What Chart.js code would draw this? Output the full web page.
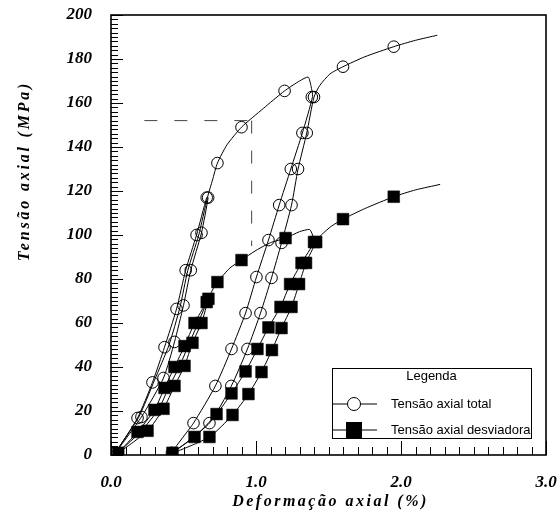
<!DOCTYPE html>
<html>
<head>
<meta charset="utf-8">
<script src="https://cdn.jsdelivr.net/npm/chart.js@4"></script>
<style>
html,body{margin:0;padding:0;background:#fff;}
#wrap{width:558px;height:515px;}
</style>
</head>
<body>
<div id="wrap"><canvas id="c" width="558" height="515"></canvas></div>
<script>
// ---- Data ----
const totalName = 'Tensão axial total';
const devName = 'Tensão axial desviadora';
const legendTitle = 'Legenda';
const xTitle = 'Deformação axial (%)';
const yTitle = 'Tensão axial (MPa)';

const xTickValues = [0, 1, 2, 3];
const yTickValues = [0, 20, 40, 60, 80, 100, 120, 140, 160, 180, 200];

// Total axial stress: full path of the curve (loading / unloading cycles)
const totalPathX = [0.03,0.183,0.286,0.369,0.452,0.515,0.59,0.66,
  0.67,0.624,0.55,0.50,0.438,0.362,0.21,0.03,
  0.19,0.30,0.40,0.475,0.53,0.605,0.665,0.70,0.734,0.80,0.90,1.05,1.197,1.30,1.36,1.38,1.39,
  1.32,1.24,1.16,1.086,1.003,0.928,0.831,0.72,0.569,0.42,
  0.679,0.83,0.941,1.031,1.107,1.176,1.245,1.29,1.35,1.40,
  1.44,1.51,1.60,1.75,1.95,2.10,2.25];
const totalPathY = [1,16.8,33,49,66.4,84,100,117,
  117,101,84,68,51.4,35,17.3,1,
  17,34,50,67,84,100,117,125,132.7,141,149,157.5,165.5,170,171.8,167.5,163,
  146.4,130,113.6,97.7,80.9,64.5,48.2,31.4,14.5,1,
  14.5,31.4,48.2,64.5,80.5,96.4,113.6,130,146.4,162.7,
  168,173.2,176.5,181,185.6,188.5,190.8];
// Total axial stress: measured points (circle markers)
const totalMarkX = [0.03,0.183,0.21,0.286,0.362,0.369,0.438,0.452,0.50,0.515,0.55,0.59,0.624,0.66,0.67,
  0.734,0.90,1.197,1.385,1.40,1.32,1.35,1.24,1.29,1.16,1.245,1.086,1.176,1.003,1.107,
  0.928,1.031,0.831,0.941,0.72,0.83,0.569,0.679,0.42,1.60,1.95];
const totalMarkY = [1,16.8,17.3,33,35,49,51.4,66.4,68,84,84,100,101,117,117,
  132.7,149,165.5,162.7,162.7,146.4,146.4,130,130,113.6,113.6,97.7,96.4,80.9,80.5,
  64.5,64.5,48.2,48.2,31.4,31.4,14.5,14.5,1,176.5,185.6];

// Deviatoric axial stress: full path
const devPathX = [0.05,0.183,0.30,0.369,0.438,0.507,0.576,0.66,
  0.672,0.624,0.562,0.507,0.438,0.362,0.252,0.05,
  0.21,0.33,0.40,0.47,0.535,0.60,0.665,0.70,0.734,0.82,0.90,1.00,1.10,1.204,1.30,1.37,1.39,1.40,
  1.314,1.235,1.169,1.086,1.01,0.928,0.831,0.728,0.576,0.424,
  0.679,0.838,0.948,1.038,1.11,1.176,1.245,1.297,1.345,1.415,
  1.45,1.52,1.60,1.75,1.95,2.10,2.27];
const devPathY = [1,10.5,20.5,30.5,40,49.5,60,69.5,
  71,60,51,40.5,31.4,21,11,1,
  11,21,31,40,50,60,70,75,78.6,85,88.6,93,96.5,98.6,101.5,102.5,100,96.8,
  87.3,77.7,67.3,58,48.2,38,28,18.6,8.2,1,
  8.2,18.2,27.7,37.7,47.7,57.7,67.3,77.7,87.3,96.8,
  100,104,107.2,112,117.4,120.5,123];
// Deviatoric axial stress: measured points (square markers)
const devMarkX = [0.05,0.183,0.252,0.30,0.362,0.369,0.438,0.438,0.507,0.507,0.562,0.576,0.624,0.66,0.672,
  0.734,0.90,1.204,1.40,1.415,1.314,1.345,1.235,1.297,1.169,1.245,1.086,1.176,1.01,1.11,
  0.928,1.038,0.831,0.948,0.728,0.838,0.576,0.679,0.424,1.60,1.95];
const devMarkY = [1,10.5,11,20.5,21,30.5,31.4,40,40.5,49.5,51,60,60,69.5,71,
  78.6,88.6,98.6,96.8,96.8,87.3,87.3,77.7,77.7,67.3,67.3,58,57.7,48.2,47.7,
  38,37.7,28,27.7,18.6,18.2,8.2,8.2,1,107.2,117.4];

// Reference dashed lines
const dashHX = [0.23, 0.97], dashHY = [152, 152];
const dashVX = [0.97, 0.97], dashVY = [152, 95];

const pts = (xs, ys) => xs.map((v, i) => ({x: v, y: ys[i]}));

const serifFont = '"Liberation Serif", "Times New Roman", serif';
const sansFont = '"Liberation Sans", Arial, sans-serif';

const decorPlugin = {
  id: 'decor',
  afterDraw(chart) {
    const {ctx, chartArea: a, scales: {x, y}} = chart;
    ctx.save();
    // frame
    ctx.strokeStyle = '#000';
    ctx.lineWidth = 1.6;
    ctx.strokeRect(a.left, a.top, a.right - a.left, a.bottom - a.top);
    // inward tick marks (major + minor)
    ctx.lineWidth = 1;
    ctx.beginPath();
    for (let i = 0; i <= 30; i++) {
      const px = Math.round(x.getPixelForValue(i / 10)) + 0.5;
      const len = i % 10 === 0 ? 14 : 8;
      ctx.moveTo(px, a.bottom); ctx.lineTo(px, a.bottom - len);
    }
    for (let j = 0; j <= 100; j++) {
      const py = Math.round(y.getPixelForValue(j * 2)) + 0.5;
      const len = j % 10 === 0 ? 12 : 7;
      ctx.moveTo(a.left, py); ctx.lineTo(a.left + len, py);
    }
    ctx.stroke();

    // axis titles (letter spaced)
    ctx.fillStyle = '#000';
    ctx.font = 'italic bold 16px ' + serifFont;
    ctx.textAlign = 'center';
    ctx.textBaseline = 'middle';
    try { ctx.letterSpacing = '2.5px'; } catch (e) {}
    ctx.fillText(xTitle, (a.left + a.right) / 2 + 2, 502);
    ctx.save();
    ctx.translate(25, 171);
    ctx.rotate(-Math.PI / 2);
    try { ctx.letterSpacing = '2.8px'; } catch (e) {}
    ctx.fillText(yTitle, 0, 0);
    ctx.restore();
    try { ctx.letterSpacing = '0px'; } catch (e) {}

    // legend box
    const L = a.right - 214, T = a.bottom - 87, W = 199, H = 70;
    ctx.fillStyle = '#fff';
    ctx.fillRect(L, T, W, H);
    ctx.strokeStyle = '#000';
    ctx.lineWidth = 1;
    ctx.strokeRect(L + 0.5, T + 0.5, W, H);
    ctx.fillStyle = '#000';
    ctx.font = '13px ' + sansFont;
    ctx.textAlign = 'center';
    ctx.fillText(legendTitle, L + W / 2, T + 8);
    // entries
    const rows = [{name: totalName, y: T + 36, type: 'circle'}, {name: devName, y: T + 62, type: 'square'}];
    rows.forEach(r => {
      ctx.beginPath();
      ctx.moveTo(L, r.y); ctx.lineTo(L + 45, r.y);
      ctx.lineWidth = 1;
      ctx.strokeStyle = '#000';
      ctx.stroke();
      const cx = L + 22;
      if (r.type === 'circle') {
        ctx.beginPath();
        ctx.arc(cx, r.y, 6.5, 0, Math.PI * 2);
        ctx.fillStyle = '#fff';
        ctx.fill();
        ctx.stroke();
      } else {
        ctx.fillStyle = '#000';
        ctx.fillRect(cx - 8, r.y - 8, 16, 16);
      }
      ctx.fillStyle = '#000';
      ctx.textAlign = 'left';
      ctx.fillText(r.name, L + 59, r.y);
    });
    ctx.restore();
  }
};

const lineDs = (label, data, extra) => Object.assign({
  label, data, showLine: true, borderColor: '#000', borderWidth: 1,
  pointRadius: 0, pointHoverRadius: 0, tension: 0.2, fill: false
}, extra || {});

new Chart(document.getElementById('c'), {
  type: 'scatter',
  data: {
    datasets: [
      lineDs(totalName + ' (curva)', pts(totalPathX, totalPathY)),
      lineDs(devName + ' (curva)', pts(devPathX, devPathY)),
      lineDs('linha tracejada H', pts(dashHX, dashHY), {borderColor: '#444', borderDash: [13, 17], tension: 0}),
      lineDs('linha tracejada V', pts(dashVX, dashVY), {borderColor: '#444', borderDash: [13, 17], tension: 0}),
      {label: totalName, data: pts(totalMarkX, totalMarkY), showLine: false, pointStyle: 'circle',
       pointRadius: 5.8, borderColor: '#000', borderWidth: 1, backgroundColor: 'rgba(0,0,0,0)'},
      {label: devName, data: pts(devMarkX, devMarkY), showLine: false, pointStyle: 'rect',
       pointRadius: 8.3, borderColor: '#000', borderWidth: 0.5, backgroundColor: '#000'}
    ]
  },
  options: {
    responsive: false,
    animation: false,
    events: [],
    layout: {padding: {left: 0, right: 12, top: 15, bottom: 0}},
    plugins: {legend: {display: false}, tooltip: {enabled: false}},
    scales: {
      x: {
        type: 'linear', min: 0, max: 3,
        afterFit: s => { s.height = 60; s.paddingLeft = 0; s.paddingRight = 0; },
        afterBuildTicks: s => { s.ticks = xTickValues.map(v => ({value: v})); },
        grid: {display: false, drawTicks: false},
        border: {display: false},
        ticks: {
          padding: 17, color: '#000',
          font: {family: serifFont, size: 17, style: 'italic', weight: 'bold'},
          callback: v => v.toFixed(1)
        }
      },
      y: {
        type: 'linear', min: 0, max: 200,
        afterFit: s => { s.width = 111; s.paddingTop = 0; s.paddingBottom = 0; },
        afterBuildTicks: s => { s.ticks = yTickValues.map(v => ({value: v})); },
        grid: {display: false, drawTicks: false},
        border: {display: false},
        ticks: {
          padding: 19, color: '#000',
          font: {family: serifFont, size: 17, style: 'italic', weight: 'bold'}
        }
      }
    }
  },
  plugins: [decorPlugin]
});
</script>
</body>
</html>
